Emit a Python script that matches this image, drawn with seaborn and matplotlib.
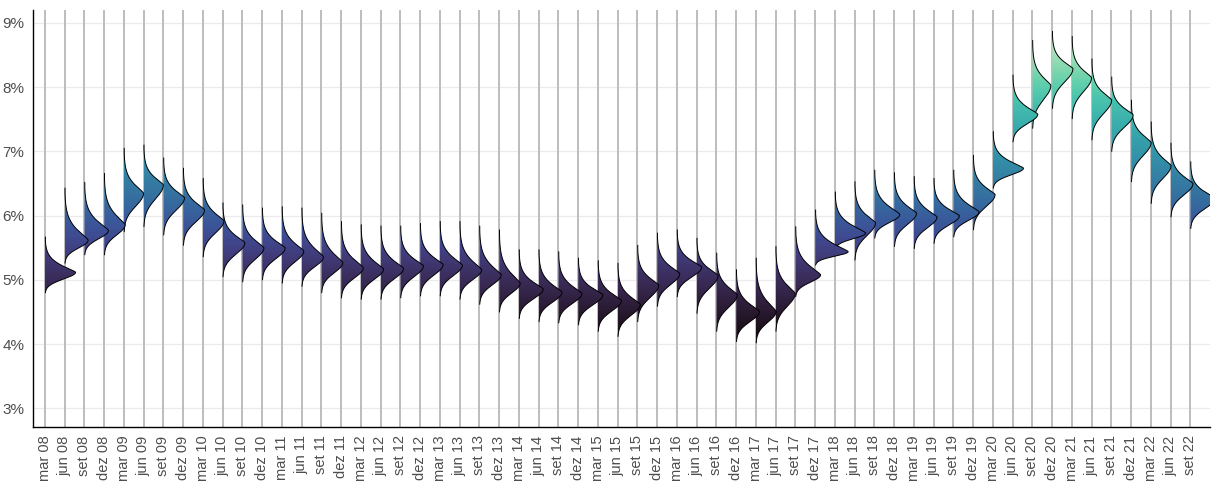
import numpy as np
import pandas as pd
import matplotlib.pyplot as plt
import seaborn as sns
from matplotlib.path import Path
from matplotlib.patches import PathPatch
from matplotlib.colors import Normalize

# quarter labels (pt-BR months)
months = ["mar", "jun", "set", "dez"]
years = list(range(8, 23))
labels = [f"{m} {y:02d}" for y in years for m in months][:59]

# peak of each expectation distribution (%)
modes = [5.12, 5.62, 5.77, 5.86, 6.35, 6.48, 6.28, 6.09, 5.92, 5.58,
         5.50, 5.50, 5.45, 5.36, 5.27, 5.19, 5.17, 5.18, 5.22, 5.24,
         5.23, 5.16, 5.08, 4.95, 4.86, 4.81, 4.79, 4.77, 4.68, 4.62,
         4.92, 5.10, 5.20, 5.07, 4.77, 4.51, 4.51, 4.79, 5.08, 5.44,
         5.73, 5.89, 6.02, 6.04, 5.98, 6.00, 6.06, 6.33, 6.74, 7.58,
         8.03, 8.29, 8.15, 7.80, 7.57, 7.14, 6.78, 6.50, 6.27]
# lowest answer
lows = [4.80, 5.26, 5.39, 5.39, 5.75, 5.83, 5.70, 5.54, 5.36, 5.05,
        4.97, 5.00, 4.95, 4.90, 4.80, 4.72, 4.70, 4.70, 4.72, 4.75,
        4.75, 4.70, 4.62, 4.50, 4.40, 4.35, 4.33, 4.30, 4.20, 4.12,
        4.35, 4.59, 4.74, 4.48, 4.20, 4.04, 4.02, 4.20, 4.74, 5.23,
        5.47, 5.31, 5.65, 5.52, 5.49, 5.57, 5.67, 5.78, 6.43, 7.15,
        7.36, 7.67, 7.51, 7.18, 7.00, 6.53, 6.19, 5.98, 5.80]
# highest answer
highs = [5.67, 6.43, 6.52, 6.66, 7.05, 7.10, 6.90, 6.74, 6.58, 6.20,
         6.17, 6.12, 6.14, 6.12, 6.04, 5.91, 5.86, 5.84, 5.84, 5.88,
         5.91, 5.91, 5.84, 5.78, 5.47, 5.47, 5.44, 5.34, 5.30, 5.26,
         5.54, 5.73, 5.78, 5.65, 5.42, 5.16, 5.34, 5.52, 5.83, 6.09,
         6.37, 6.53, 6.71, 6.67, 6.61, 6.58, 6.71, 6.94, 7.31, 8.19,
         8.73, 8.87, 8.79, 8.44, 8.16, 7.80, 7.46, 7.13, 6.84]

df = pd.DataFrame({"quarter": labels, "mode": modes, "low": lows, "high": highs})

sns.set_theme(style="whitegrid")
plt.rcParams["font.family"] = ["Liberation Sans", "DejaVu Sans"]
cmap = sns.color_palette("mako", as_cmap=True)
norm = Normalize(vmin=3.9, vmax=9.1)

fig = plt.figure(figsize=(12.2, 4.82), dpi=100)
ax = fig.add_axes([0.027, 0.114, 0.965, 0.865])
ax.set_facecolor("white")

SCALE = 0.43
grad = np.linspace(2.5, 9.5, 400).reshape(-1, 1)

for i, row in df.iterrows():
    y = np.linspace(row["low"], row["high"], 600)
    d = y - row["mode"]
    sl = (row["mode"] - row["low"]) / 3.0
    su = (row["high"] - row["mode"]) / 6.0
    dens = np.where(d < 0,
                    np.exp(-0.5 * np.abs(d / sl) ** 2.0),
                    np.exp(-0.5 * np.abs(d / su) ** 1.3))
    dens = np.maximum(dens, 0.012)
    h = dens / np.trapezoid(dens, y) * SCALE
    verts = [(i, y[0])] + list(zip(i + h, y)) + [(i, y[-1]), (i, y[0])]
    patch = PathPatch(Path(verts), facecolor="none", edgecolor="none")
    ax.add_patch(patch)
    z = 100 - i * 0.5
    im = ax.imshow(grad, cmap=cmap, norm=norm, aspect="auto", origin="lower",
                   extent=[i, i + h.max() + 0.1, 2.5, 9.5], zorder=z)
    im.set_clip_path(patch)
    ax.plot(i + h, y, color="black", lw=0.7, zorder=z + 0.1)

for i in range(len(labels)):
    ax.axvline(i, color="#bdbdbd", lw=1.4, zorder=1)

ax.set_xlim(-0.61, 59.0)
ax.set_ylim(2.71, 9.2)
ax.set_xticks(range(len(labels)))
ax.set_xticklabels(labels, rotation=90, fontsize=10.5, color="#4d4d4d")
ax.set_yticks([3, 4, 5, 6, 7, 8, 9])
ax.set_yticklabels([f"{v}%" for v in [3, 4, 5, 6, 7, 8, 9]], fontsize=11, color="#4d4d4d")
ax.grid(axis="x", visible=False)
ax.grid(axis="y", color="#ebebeb", lw=0.9)
ax.set_axisbelow(True)
ax.tick_params(axis="both", length=4, width=0.8, color="#555555", pad=2)
for s in ["top", "right"]:
    ax.spines[s].set_visible(False)
for s in ["left", "bottom"]:
    ax.spines[s].set_color("black")
    ax.spines[s].set_linewidth(1.0)

fig.savefig("out.png", dpi=100)
